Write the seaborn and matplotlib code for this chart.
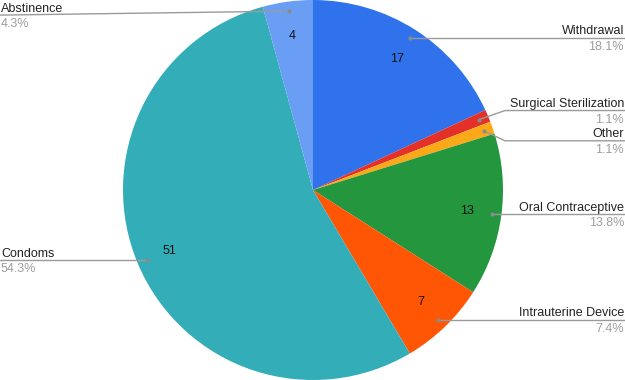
import numpy as np
import matplotlib
matplotlib.use("Agg")
import matplotlib.pyplot as plt
import seaborn as sns

categories = ["Withdrawal", "Surgical Sterilization", "Other", "Oral Contraceptive",
              "Intrauterine Device", "Condoms", "Abstinence"]
values = [17, 1, 1, 13, 7, 51, 4]
colors = ["#2F72EB", "#E3312A", "#FBA918", "#23963E", "#FF5606", "#33AEB8", "#6A9EF5"]

sns.set_theme(style="white")
plt.rcParams['font.family'] = ['Liberation Sans', 'DejaVu Sans']

W, H = 625, 380
fig = plt.figure(figsize=(W / 100, H / 100), dpi=100)
ax = fig.add_axes([0, 0, 1, 1])
cx, cy, R = 313, 190, 190

total = sum(values)
wedges, _ = ax.pie(values, colors=colors, startangle=90, counterclock=False,
                   center=(cx, cy), radius=R, wedgeprops=dict(linewidth=0),
                   frame=True)
ax.set_xlim(0, W)
ax.set_ylim(0, H)
ax.set_aspect('auto')
ax.axis('off')

fs = 9
# inner value labels (only for larger slices)
for w, v in zip(wedges, values):
    ang = np.deg2rad((w.theta1 + w.theta2) / 2)
    if v / total > 0.03:
        r = 0.82 * R
        ax.text(cx + r * np.cos(ang), cy + r * np.sin(ang), str(v),
                ha='center', va='center', fontsize=fs, color='#111111')

# leader lines and outer labels
offsets = {"Surgical Sterilization": 9, "Other": -10, "Abstinence": -4}
for w, cat, v in zip(wedges, categories, values):
    ang = np.deg2rad((w.theta1 + w.theta2) / 2)
    px = cx + 0.95 * R * np.cos(ang)
    py = cy + 0.95 * R * np.sin(ang)
    ly = py + offsets.get(cat, 0)
    right = np.cos(ang) > 0 and cat != "Abstinence"
    pct = f"{v / total * 100:.1f}%"
    ax.plot([px], [py], marker='o', ms=2, color='#8a8a8a', zorder=5)
    if right:
        kx = 505 if cat in offsets else px
        ax.plot([px, kx, W], [py, ly, ly], color='#9a9a9a', lw=1, zorder=4)
        tx, ha = W - 1, 'right'
    else:
        ax.plot([px, 0], [py, ly], color='#9a9a9a', lw=1, zorder=4)
        tx, ha = 1, 'left'
    ax.text(tx, ly + 3.5, cat, ha=ha, va='baseline', fontsize=fs, color='#222222')
    ax.text(tx, ly - 3, pct, ha=ha, va='top', fontsize=fs, color='#9e9e9e')

fig.savefig("out.png", dpi=100)
